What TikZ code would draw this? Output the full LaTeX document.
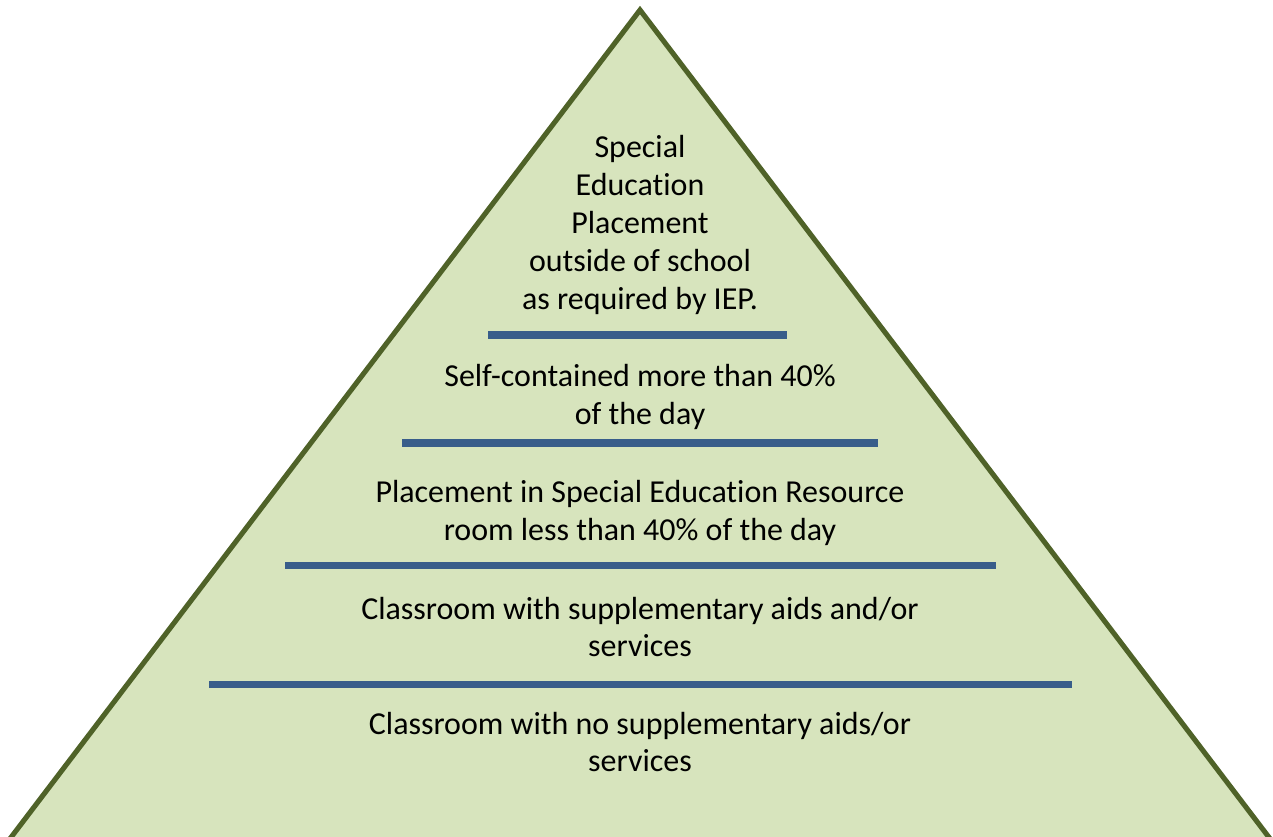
\documentclass[tikz,border=0pt]{standalone}
\usepackage{fontspec}
\setmainfont{Carlito}[Ligatures={NoCommon}]
\usepackage{tikz}
\usetikzlibrary{positioning}
\usepackage{xcolor}

\definecolor{pyrfill}{HTML}{D7E4BD}
\definecolor{pyredge}{HTML}{4F6228}
\definecolor{barblue}{HTML}{385D8A}

\begin{document}
\begin{tikzpicture}[x=0.02cm, y=-0.02cm,
  pyramid/.style={fill=pyrfill, draw=pyredge, line width=2.9pt, line join=miter},
  divider/.style={draw=barblue, line width=4pt},
  tier/.style={align=center, inner sep=0pt,
    font=\fontsize{18.2}{21.6}\selectfont, text=black}
]
\useasboundingbox (0,0) rectangle (1273,836);
\clip (0,0) rectangle (1273,836);
% the pyramid, base runs off the page
\draw[pyramid] (640,10) -- (1347,940) -- (-67,940) -- cycle;
% tier separators
\draw[divider] (488,335) -- (787,335);
\draw[divider] (402,443) -- (878,443);
\draw[divider] (285,565) -- (996,565);
\draw[divider] (209,684) -- (1072,684);
% tier labels, top to bottom
\node[tier] (t0) at (640,225) {Special\\Education\\Placement\\outside of school\\as required by IEP.};
\node[tier] (t1) at (640,397) {Self-contained more than 40\%\\of the day};
\node[tier] (t2) at (640,513) {Placement in Special Education Resource\\room less than 40\% of the day};
\node[tier] (t3) at (640,627) {Classroom with supplementary aids and/or\\services};
\node[tier] (t4) at (640,742) {Classroom with no supplementary aids/or\\services};
\end{tikzpicture}
\end{document}
